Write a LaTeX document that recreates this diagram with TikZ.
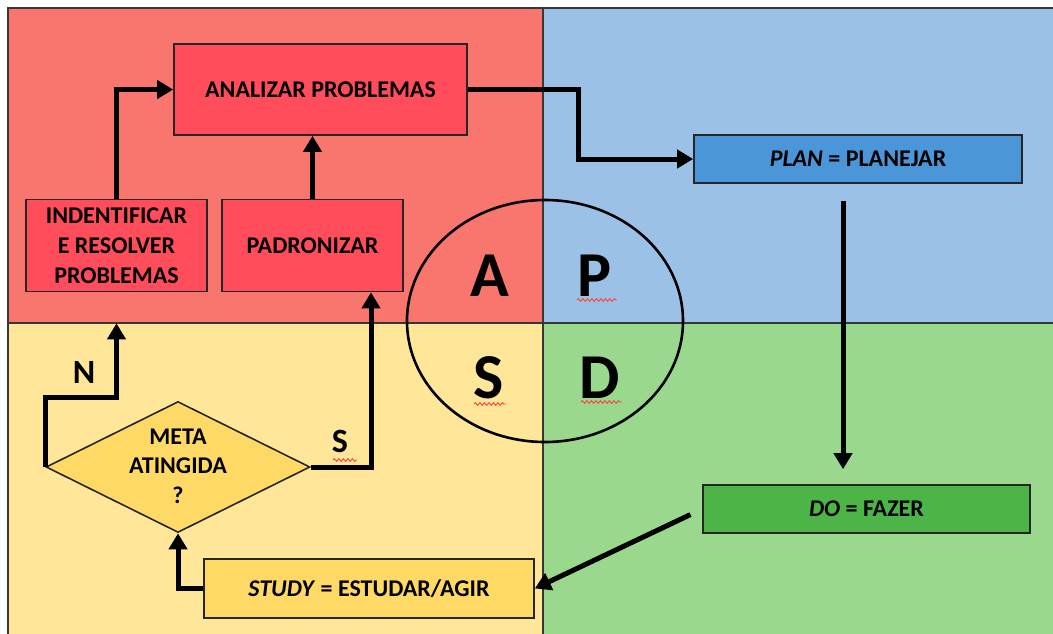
\documentclass[tikz,border=0pt]{standalone}
\usepackage{fontspec}
\setmainfont{Carlito}
\usetikzlibrary{arrows.meta,shapes.geometric,decorations.pathmorphing}
\definecolor{redbg}{RGB}{249,118,110}
\definecolor{redbox}{RGB}{255,77,91}
\definecolor{bluebg}{RGB}{155,194,230}
\definecolor{bluebox}{RGB}{74,150,216}
\definecolor{greenbg}{RGB}{154,216,142}
\definecolor{greenbox}{RGB}{77,181,72}
\definecolor{yellowbg}{RGB}{255,230,153}
\definecolor{yellowbox}{RGB}{255,217,102}
\definecolor{framegray}{RGB}{55,55,55}
\tikzset{
  box/.style={draw=black!85, line width=1.6pt, inner sep=0pt, align=center,
    font=\fontsize{24}{30}\selectfont\bfseries},
  arr/.style={line width=5pt, -{Triangle[length=16pt,width=18pt]}},
  bigletter/.style={font=\fontsize{64}{64}\selectfont\bfseries, inner sep=0pt},
  lbl/.style={font=\fontsize{34}{34}\selectfont\bfseries, inner sep=0pt},
  wavy/.style={draw=red!75, line width=0.9pt, decorate,
    decoration={snake, amplitude=1.3pt, segment length=4.5pt}},
  frameline/.style={draw=framegray, line width=1.6pt}
}
\begin{document}
\begin{tikzpicture}[x=1pt,y=-1pt]
\useasboundingbox (0,0) rectangle (1053,633);
% quadrants
\fill[redbg] (8,8) rectangle (543,323);
\fill[bluebg] (543,8) rectangle (1060,323);
\fill[yellowbg] (8,323) rectangle (543,640);
\fill[greenbg] (543,323) rectangle (1060,640);
\draw[frameline] (8,640) -- (8,8) -- (1060,8);
\draw[frameline] (8,323) -- (1060,323);
\draw[frameline] (543,8) -- (543,640);
% central ellipse
\draw[line width=2.6pt] (545,321) ellipse [x radius=138, y radius=121];
\node[bigletter] (lA) at (490,276) {A};
\node[bigletter] (lP) at (595,276) {P};
\node[bigletter] (lS) at (489,378) {S};
\node[bigletter] (lD) at (600,378) {D};
\draw[wavy] (577,300) -- (617,300);
\draw[wavy] (474,404) -- (506,404);
\draw[wavy] (581,402) -- (622,402);
% boxes
\node[box, fill=redbox, minimum width=293pt, minimum height=91pt] (ana) at (320.5,89.5) {ANALIZAR PROBLEMAS};
\node[box, fill=redbox, minimum width=181pt, minimum height=92pt] (ide) at (116.5,245.5) {INDENTIFICAR\\E RESOLVER\\PROBLEMAS};
\node[box, fill=redbox, minimum width=181pt, minimum height=92pt] (pad) at (312.5,245.5) {PADRONIZAR};
\node[box, fill=bluebox, minimum width=328pt, minimum height=48pt] (plan) at (858,159) {\textit{PLAN} = PLANEJAR};
\node[box, fill=greenbox, minimum width=327pt, minimum height=48pt] (do) at (866.5,509) {\textit{DO} = FAZER};
\node[box, fill=yellowbox, minimum width=330pt, minimum height=59pt] (study) at (369,588.5) {\textit{STUDY} = ESTUDAR/AGIR};
\node[diamond, draw=black!85, line width=1.6pt, fill=yellowbox, inner sep=0pt,
  minimum width=264pt, minimum height=131pt] (meta) at (178,467) {};
\node[align=center, inner sep=0pt, font=\fontsize{24}{29.5}\selectfont\bfseries] (metatxt) at (178,466) {META\\ATINGIDA\\?};
% labels
\node[lbl] (nN) at (84,372) {N};
\node[lbl] (nS) at (340,441) {S};
\draw[wavy] (333,460) -- (357,460);
% connectors
\draw[arr] (ide.north) |- (ana.west);
\draw[arr] (pad.north) -- (pad.north |- ana.south);
\draw[arr] (ana.east) -- ++(111,0) |- (plan.west);
\draw[arr, shorten <=17pt, shorten >=15pt] ([xshift=-15pt]plan.south) -- ([xshift=-15pt]plan.south |- do.north);
\draw[arr, shorten <=13pt] (do.west) -- (study.east);
\draw[arr] (study.west) -| (meta.south);
\draw[arr, shorten >=31pt] (meta.west) -- ++(0,-70) -| (ide.south);
\draw[arr] (meta.east) -| ([xshift=58.5pt]pad.south);
\end{tikzpicture}
\end{document}
